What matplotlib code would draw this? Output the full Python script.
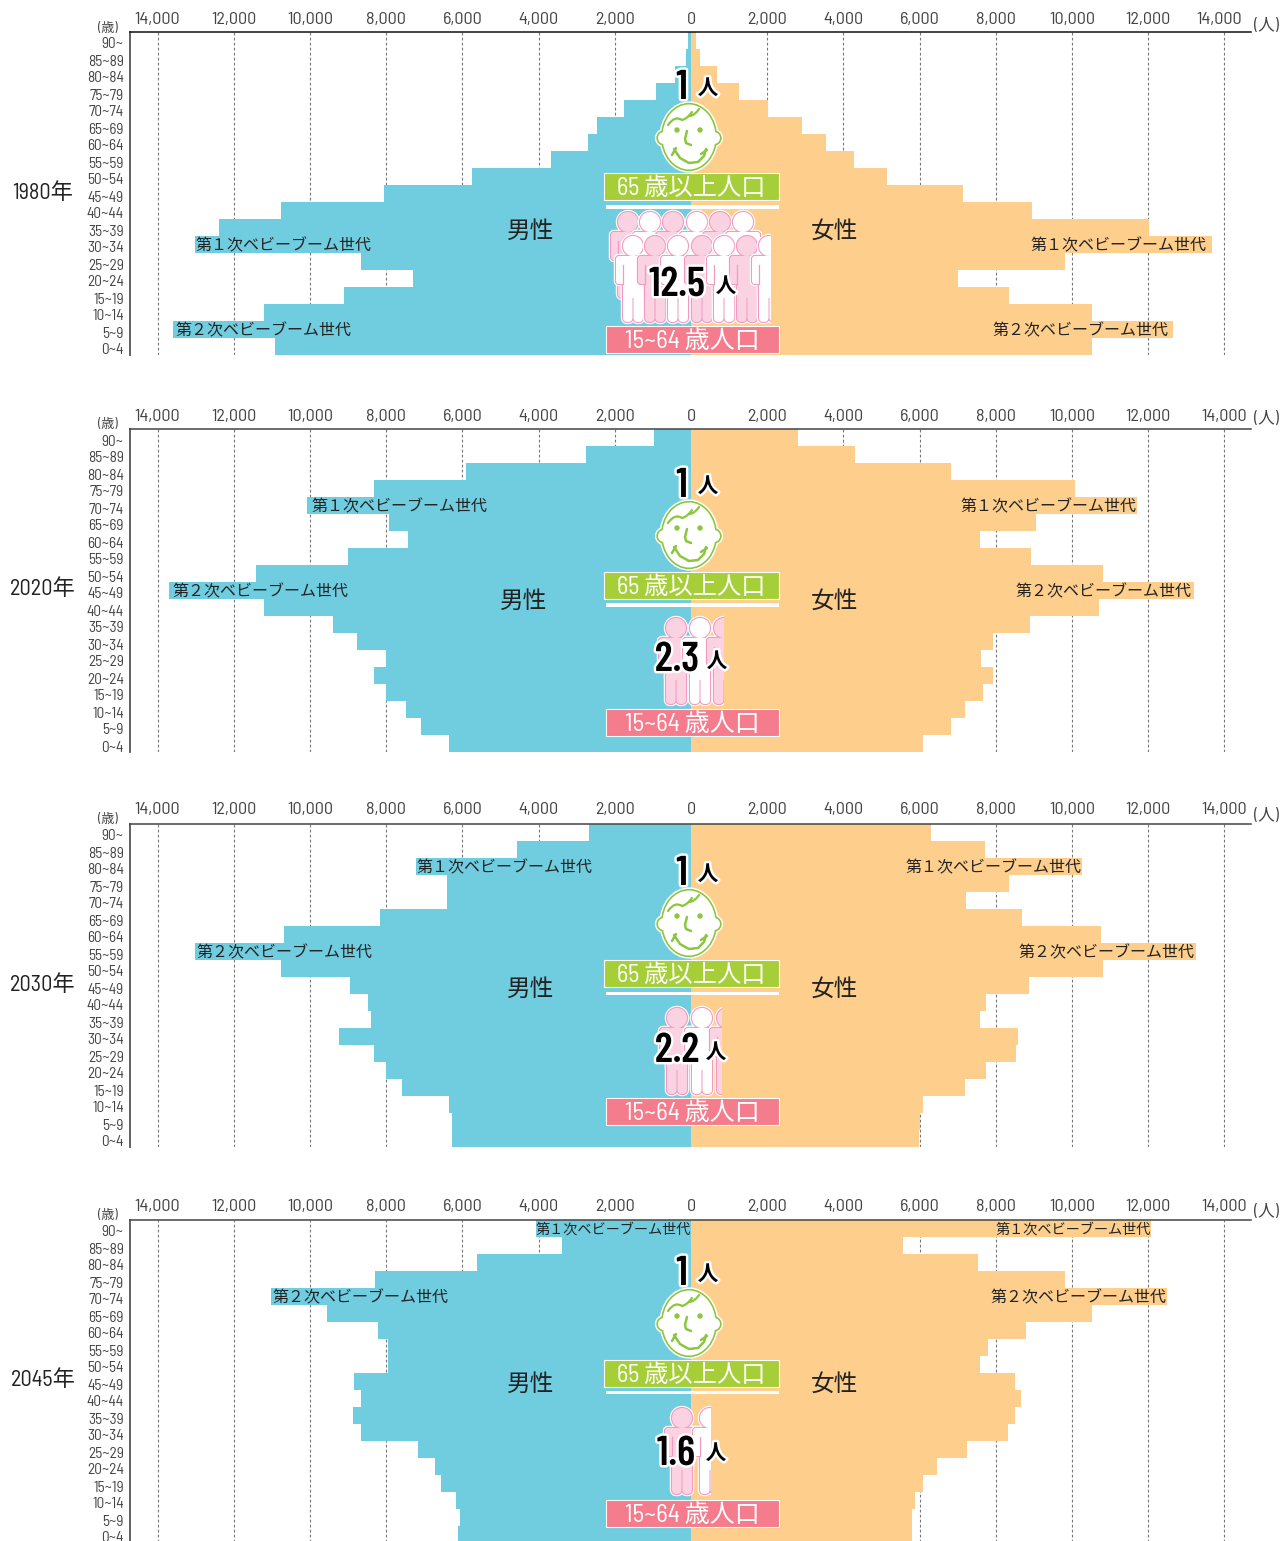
import matplotlib
matplotlib.use('Agg')
import matplotlib.pyplot as plt
import matplotlib.patheffects as pe
from matplotlib.path import Path
from matplotlib.patches import Circle, Ellipse, FancyBboxPatch, PathPatch, Rectangle
from matplotlib.transforms import ScaledTranslation

BODY_FONT = ['Barlow Semi Condensed', 'Noto Sans CJK JP', 'DejaVu Sans']
NUMBER_FONT = ['Barlow Condensed', 'Noto Sans CJK JP', 'DejaVu Sans']
plt.rcParams['font.family'] = BODY_FONT

# --- Data (top row first) ---
AGES = ['90~', '85~89', '80~84', '75~79', '70~74', '65~69', '60~64', '55~59', '50~54', '45~49',
        '40~44', '35~39', '30~34', '25~29', '20~24', '15~19', '10~14', '5~9', '0~4']
YEARS = ['1980年', '2020年', '2030年', '2045年']

MALE_1980 = [70, 130, 420, 920, 1760, 2470, 2700, 3670, 5750, 8060,
             10760, 12390, 13020, 8660, 7300, 9110, 11200, 13600, 10920]
FEMALE_1980 = [130, 240, 680, 1260, 2020, 2910, 3540, 4280, 5140, 7140,
               8950, 12020, 13670, 9820, 7010, 8350, 10520, 12650, 10520]
MALE_2020 = [970, 2760, 5910, 8320, 10080, 7930, 7430, 9000, 11420, 13700,
             11200, 9400, 8770, 8010, 8320, 8010, 7480, 7090, 6350]
FEMALE_2020 = [2810, 4300, 6820, 10080, 11700, 9060, 7590, 8920, 10810, 13200,
               10710, 8900, 7930, 7610, 7930, 7660, 7190, 6820, 6090]
MALE_2030 = [2680, 4570, 7220, 6400, 6400, 8160, 10680, 13020, 10760, 8950,
             8480, 8400, 9240, 8320, 8010, 7590, 6350, 6270, 6270]
FEMALE_2030 = [6300, 7720, 10260, 8350, 7220, 8690, 10760, 13250, 10810, 8870,
               7740, 7590, 8580, 8530, 7740, 7190, 6090, 6010, 5980]
MALE_2045 = [4070, 3390, 5620, 8290, 11020, 9550, 8210, 7950, 7950, 8850,
             8660, 8870, 8660, 7170, 6720, 6560, 6170, 6060, 6120]
FEMALE_2045 = [12070, 5560, 7530, 9820, 12490, 10520, 8790, 7800, 7590, 8500,
               8660, 8500, 8320, 7240, 6460, 6090, 5880, 5800, 5800]
MALES = [MALE_1980, MALE_2020, MALE_2030, MALE_2045]
FEMALES = [FEMALE_1980, FEMALE_2020, FEMALE_2030, FEMALE_2045]

BOOM_1 = ['30~34', '70~74', '80~84', '90~']
BOOM_2 = ['5~9', '45~49', '55~59', '70~74']
WORKERS = ['12.5', '2.3', '2.2', '1.6']

X_TICKS = [-14000, -12000, -10000, -8000, -6000, -4000, -2000, 0,
           2000, 4000, 6000, 8000, 10000, 12000, 14000]

# --- Layout, in pixels of the picture ---
W, H = 1282, 1541
PANEL_TOP = [32, 429, 824, 1220]
ROW_H = 17
AX_LEFT, AX_RIGHT = 130, 1251
X_ZERO, PX_PER_UNIT = 691, 0.0381

YEAR_Y = [193, 589, 985, 1381]
SEX_Y = [232, 602, 990, 1385]
MALE_X = [531, 524, 531, 531]
ONE_Y = [88, 486, 874, 1274]
FACE_Y = [137, 535, 923, 1323]
GREEN_TOP = [173, 572, 960, 1360]
LINE_Y = [206.5, 604.5, 993, 1392]
PINK_TOP = [326, 709, 1098, 1500]
NUM_POS = [(677, 285), (677, 660), (677, 1051), (676, 1454)]
UNIT_POS = [(726, 286), (717, 661), (716, 1052), (716, 1453)]
YEAR_UNIT_Y = [25, 418, 815, 1211]
AGE_UNIT_Y = [28, 424, 819, 1215]
TICK_PAD = [3.7, 3.7, 4.7, 4.5]
# label offsets from the bar end in pixels: [first boom, second boom]
BOOM_NUDGE_M = [(1, 3), (5, 3), (1, 2), (0, 1)]
BOOM_NUDGE_F = [(-5, -4), (0, -2), (0, -1), (0, 0)]

BLUE = '#70CDE0'
ORANGE = '#FDCE8C'
GREEN = '#A6CE39'
FACE_GREEN = '#8CC63F'
PINK = '#F47C8C'
PERSON_EDGE = '#F29AC2'
PERSON_FILL = '#FAD2E2'
TEXT = '#444444'


def layered(ov, make_parts, fill, edge, clip=None, halo=4.0, line=2.2):
    """Draw a group of shapes as one silhouette: white halo, outline, then fill."""
    for color, lw in (('white', halo), (edge, line), (fill, 0)):
        for part in make_parts():
            part.set(facecolor=color, edgecolor=color, linewidth=lw, zorder=6)
            ov.add_patch(part)
            if clip is not None:
                part.set_clip_path(clip)


def person(ov, cx, top, fill, clip):
    def parts():
        def box(x, y, w, h, r):
            return FancyBboxPatch((cx + x, top + y), w, h,
                                  boxstyle=f'round,pad=0,rounding_size={r}')
        return [
            Circle((cx, top + 10), 10),
            box(-17, 20, 34, 28, 3),
            box(-10, 24, 20, 38, 2),
            box(-10, 45, 9.5, 41, 4.5),
            box(0.5, 45, 9.5, 41, 4.5),
        ]
    layered(ov, parts, fill, PERSON_EDGE, clip, halo=3.2, line=1.6)
    for sign in (-1, 1):
        arm, = ov.plot([cx + sign * 10, cx + sign * 10], [top + 29, top + 48], color=PERSON_EDGE,
                       lw=0.9, zorder=6)
        arm.set_clip_path(clip)


def people(ov, i):
    clip_right = [771, 724, 722, 711][i]
    clip = Rectangle((600, PANEL_TOP[i]), clip_right - 600, 320, transform=ov.transData)
    if i == 0:
        for k, cx in enumerate([628, 650, 673, 697, 720, 743]):
            person(ov, cx, 212, PERSON_FILL if k % 2 == 0 else 'white', clip)
        for k, cx in enumerate([633, 655, 678, 702, 724, 747, 769]):
            person(ov, cx, 236, 'white' if k % 2 == 0 else PERSON_FILL, clip)
    else:
        top = [0, 618, 1008, 1408][i]
        xs = [[], [676, 700, 724], [677, 702, 727], [682, 710]][i]
        for k, cx in enumerate(xs):
            person(ov, cx, top, PERSON_FILL if k % 2 == 0 else 'white', clip)


def face(ov, cx, cy):
    def parts():
        return [Circle((cx - 25, cy + 1), 6), Circle((cx + 25, cy + 1), 6),
                Ellipse((cx, cy), 53, 65)]
    layered(ov, parts, 'white', FACE_GREEN, halo=4.5, line=2.4)
    hair = [(-21, -12), (-14, -22), (-7, -17), (-2, -18), (3, -25),
            (1, -21), (6, -22), (10, -28)]
    codes = [Path.MOVETO] + [Path.CURVE3] * 4 + [Path.MOVETO] + [Path.CURVE3] * 2
    ov.add_patch(PathPatch(Path([(cx + x, cy + y) for x, y in hair], codes), fill=False,
                           edgecolor=FACE_GREEN, lw=1.6, capstyle='round', zorder=7))
    style = dict(color=FACE_GREEN, lw=1.8, solid_capstyle='round', solid_joinstyle='round', zorder=7)
    nose = [(-2, -6), (-4, 2), (-3, 6), (2, 8)]
    smile = [(-15, 12), (-9, 21), (0, 26), (9, 25), (15, 19), (17, 12)]
    cheek_l = [(-17, 18), (-13, 11)]
    cheek_r = [(12, 17), (18, 13)]
    for shape in (nose, smile, cheek_l, cheek_r):
        ov.plot([cx + p[0] for p in shape], [cy + p[1] for p in shape], **style)
    ov.add_patch(Circle((cx - 12, cy - 7), 2, color=FACE_GREEN, zorder=7))
    ov.add_patch(Circle((cx + 11, cy - 7), 2, color=FACE_GREEN, zorder=7))


def draw_panel(fig, i):
    top = PANEL_TOP[i]
    height = ROW_H * len(AGES)
    ax = fig.add_axes([AX_LEFT / W, 1 - (top + height) / H, (AX_RIGHT - AX_LEFT) / W, height / H])
    rows = list(range(len(AGES) - 1, -1, -1))
    ax.barh(rows, [-v for v in MALES[i]], height=1, color=BLUE, linewidth=0, zorder=2)
    ax.barh(rows, FEMALES[i], height=1, color=ORANGE, linewidth=0, zorder=2)
    ax.set_xlim((AX_LEFT - X_ZERO) / PX_PER_UNIT, (AX_RIGHT - X_ZERO) / PX_PER_UNIT)
    ax.set_ylim(-0.5, len(AGES) - 0.5)

    for side in ('right', 'bottom'):
        ax.spines[side].set_visible(False)
    ax.spines['top'].set_linewidth(1.1)
    ax.spines['top'].set_color('#111111' if i == 0 else '#444444')
    ax.spines['left'].set_linewidth(1.3)
    ax.spines['left'].set_color('#555555')

    ax.set_xticks(X_TICKS)
    ax.set_xticklabels([f'{abs(v):,}' for v in X_TICKS], fontsize=13, color=TEXT)
    ax.xaxis.tick_top()
    ax.tick_params(axis='x', length=0, pad=TICK_PAD[i])
    ax.set_yticks(rows)
    ax.set_yticklabels(AGES, fontsize=11, color=TEXT)
    ax.tick_params(axis='y', length=0, pad=4.5)
    shift = ScaledTranslation(0, -2.5 / 100, fig.dpi_scale_trans)
    for label in ax.get_yticklabels():
        label.set_transform(label.get_transform() + shift)
    if i == 0:
        last = ax.get_xticklabels()[-1]
        last.set_transform(last.get_transform() + ScaledTranslation(-5 / 100, 0, fig.dpi_scale_trans))

    ax.grid(axis='x', color='#777777', lw=0.8, linestyle=(0, (2.5, 2)), zorder=1)
    ax.set_axisbelow(True)

    for k, age in enumerate([BOOM_1[i], BOOM_2[i]]):
        row = AGES.index(age)
        name = f"第{'１' if k == 0 else '２'}次ベビーブーム世代"
        # the 90~ row of 2045 has to fit inside the male bar, so it is set smaller
        size = 10.2 if age == '90~' else 11.5
        ax.annotate(name, (-MALES[i][row], rows[row]), xytext=(BOOM_NUDGE_M[i][k] * 0.72, 0),
                    textcoords='offset points', ha='left', va='center_baseline',
                    fontsize=size, color='#222222', zorder=4)
        ax.annotate(name, (FEMALES[i][row], rows[row]), xytext=(BOOM_NUDGE_F[i][k] * 0.72, 0),
                    textcoords='offset points', ha='right', va='center_baseline',
                    fontsize=size, color='#222222', zorder=4)


def draw_overlay(ov, i):
    ov.text(43, YEAR_Y[i], YEARS[i], ha='center', va='center', fontsize=16, color='#222222')
    ov.text(108, AGE_UNIT_Y[i], '(歳)', ha='center', va='center', fontsize=9.5, color=TEXT)
    ov.text(1266, YEAR_UNIT_Y[i], '(人)', ha='center', va='center', fontsize=12, color=TEXT)
    ov.text(MALE_X[i], SEX_Y[i], '男性', ha='center', va='center', fontsize=17, color='#222222')
    ov.text(834, SEX_Y[i], '女性', ha='center', va='center', fontsize=17, color='#222222')

    people(ov, i)
    face(ov, 689, FACE_Y[i])

    ov.add_patch(Rectangle((604, GREEN_TOP[i]), 175, 27, facecolor=GREEN, edgecolor='white', lw=0.8, zorder=5))
    ov.text(691, GREEN_TOP[i] + 15, '65 歳以上人口', ha='center', va='center', fontsize=17.5, color='white', zorder=8)
    ov.add_patch(Rectangle((606, LINE_Y[i] - 1.5), 173, 3.5, facecolor='white', edgecolor='none', zorder=5))
    ov.add_patch(Rectangle((606, PINK_TOP[i]), 173, 26.5, facecolor=PINK, edgecolor='white', lw=0.8, zorder=5))
    ov.text(692, PINK_TOP[i] + 15, '15~64 歳人口', ha='center', va='center', fontsize=18, color='white', zorder=8)

    halo = [pe.withStroke(linewidth=3.5, foreground='white')]
    big = dict(ha='center', va='center', fontsize=30, fontweight='semibold', family=NUMBER_FONT,
               color='black', path_effects=halo, zorder=9)
    small = dict(ha='center', va='center', fontsize=15, fontweight='bold', family='Noto Sans CJK JP',
                 color='black', path_effects=halo, zorder=9)
    ov.text(682, ONE_Y[i], '1', **big)
    ov.text(708, ONE_Y[i], '人', **small)
    ov.text(NUM_POS[i][0], NUM_POS[i][1], WORKERS[i], **big)
    ov.text(UNIT_POS[i][0], UNIT_POS[i][1], '人', **small)


def main():
    fig = plt.figure(figsize=(W / 100, H / 100), dpi=100)
    for i in range(len(YEARS)):
        draw_panel(fig, i)

    ov = fig.add_axes([0, 0, 1, 1], zorder=10)
    ov.set_xlim(0, W)
    ov.set_ylim(H, 0)
    ov.axis('off')
    ov.patch.set_visible(False)
    for i in range(len(YEARS)):
        draw_overlay(ov, i)

    fig.savefig('out.png', dpi=100)


if __name__ == '__main__':
    main()
